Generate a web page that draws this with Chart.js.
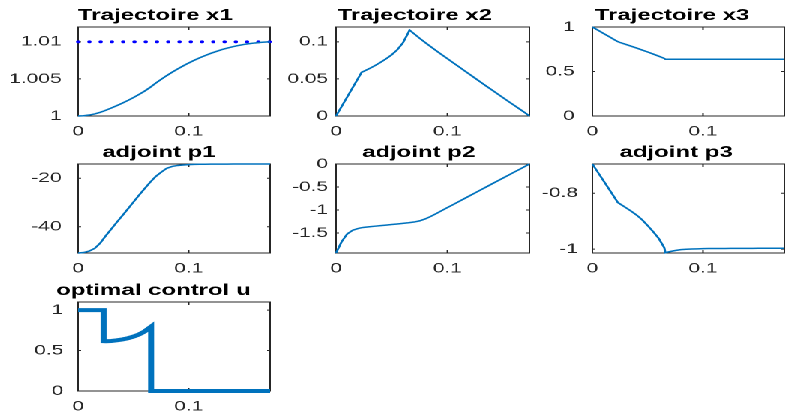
<!DOCTYPE html>
<html>
<head>
<meta charset="utf-8">
<script src="https://cdn.jsdelivr.net/npm/chart.js@4.4.1/dist/chart.umd.min.js"></script>
<style>
  html, body { margin: 0; padding: 0; background: #fff; overflow: hidden; }
  /* the reference figure is stretched horizontally, so draw narrow and stretch */
  #figure { position: absolute; left: 0; top: 0; width: 524px; height: 412px; transform: scaleX(1.5); transform-origin: 0 0; }
  #figure canvas { position: absolute; }
</style>
</head>
<body>
<div id="figure">
  <canvas id="c1" width="182" height="144" style="left:2px;top:0px"></canvas>
  <canvas id="c2" width="183" height="144" style="left:174px;top:0px"></canvas>
  <canvas id="c3" width="182" height="144" style="left:345px;top:0px"></canvas>
  <canvas id="c4" width="182" height="144" style="left:2px;top:137px"></canvas>
  <canvas id="c5" width="183" height="144" style="left:174px;top:137px"></canvas>
  <canvas id="c6" width="182" height="144" style="left:345px;top:137px"></canvas>
  <canvas id="c7" width="182" height="144" style="left:2px;top:275px"></canvas>
</div>
<script>
// time grid shared by the state / adjoint curves
const timeGrid = [0, 0.005, 0.01, 0.015, 0.02, 0.023, 0.025, 0.03, 0.035, 0.04, 0.045, 0.05, 0.055, 0.06, 0.065, 0.066,
  0.07, 0.075, 0.08, 0.085, 0.09, 0.095, 0.1, 0.105, 0.11, 0.115, 0.12, 0.125, 0.13, 0.135, 0.14, 0.145, 0.15, 0.155, 0.16, 0.165, 0.17, 0.1736];

const x1Values = [1, 1.00003, 1.00013, 1.00028, 1.0005, 1.00066, 1.00078, 1.00108, 1.0014, 1.00174, 1.0021, 1.00249, 1.0029, 1.00335, 1.00385, 1.00396,
  1.00442, 1.00494, 1.00544, 1.00591, 1.00635, 1.00676, 1.00715, 1.00751, 1.00785, 1.00816, 1.00845, 1.00871, 1.00895, 1.00916, 1.00935, 1.00951, 1.00965, 1.00976, 1.00985, 1.00992, 1.00997, 1.01];
const x1Target = 1.01;

const x2Values = [0, 0.0128, 0.0256, 0.0384, 0.0512, 0.059, 0.0604, 0.064, 0.068, 0.0724, 0.0772, 0.0826, 0.0893, 0.0985, 0.1125, 0.1159,
  0.111, 0.1049, 0.0991, 0.0935, 0.088, 0.0826, 0.0773, 0.072, 0.0667, 0.0614, 0.0561, 0.0508, 0.0455, 0.0402, 0.035, 0.0298, 0.0246, 0.0194, 0.0143, 0.0092, 0.0041, 0];

const x3Values = [1, 0.964, 0.928, 0.892, 0.856, 0.835, 0.826, 0.805, 0.784, 0.763, 0.741, 0.719, 0.696, 0.672, 0.647, 0.638,
  0.638, 0.638, 0.638, 0.638, 0.638, 0.638, 0.638, 0.638, 0.638, 0.638, 0.638, 0.638, 0.638, 0.638, 0.638, 0.638, 0.638, 0.638, 0.638, 0.638, 0.638, 0.638];

const p1Values = [-50.8, -50.6, -50.0, -48.9, -46.7, -44.9, -43.7, -40.9, -38.1, -35.4, -32.6, -29.8, -27.0, -24.3, -21.7, -21.2,
  -19.3, -17.5, -15.9, -15.1, -14.7, -14.5, -14.35, -14.27, -14.22, -14.19, -14.17, -14.15, -14.14, -14.13, -14.12, -14.12, -14.11, -14.11, -14.1, -14.1, -14.1, -14.1];

const p2Values = [-1.935, -1.69, -1.52, -1.44, -1.40, -1.385, -1.378, -1.365, -1.352, -1.34, -1.328, -1.316, -1.304, -1.291, -1.278, -1.275,
  -1.262, -1.237, -1.195, -1.14, -1.078, -1.013, -0.948, -0.884, -0.819, -0.755, -0.69, -0.626, -0.561, -0.497, -0.432, -0.368, -0.304, -0.24, -0.176, -0.112, -0.047, 0];

const p3Values = [-0.695, -0.725, -0.755, -0.785, -0.815, -0.833, -0.838, -0.851, -0.864, -0.878, -0.895, -0.916, -0.938, -0.962, -0.995, -1.013,
  -1.009, -1.005, -1.002, -1.0005, -0.9995, -0.999, -0.9985, -0.998, -0.998, -0.998, -0.998, -0.9975, -0.9975, -0.9975, -0.9975, -0.9975, -0.997, -0.997, -0.997, -0.997, -0.997, -0.997];

// control has jumps, so its own time list (repeated times = vertical steps)
const uTimes = [0, 0.023, 0.023, 0.025, 0.03, 0.035, 0.04, 0.045, 0.05, 0.055, 0.06, 0.066, 0.066, 0.1736];
const uValues = [1, 1, 0.616, 0.615, 0.618, 0.626, 0.637, 0.652, 0.672, 0.699, 0.735, 0.795, 0, 0];

const xTicks = [0, 0.1];
const xMax = 0.1736;
const x1Ticks = [1, 1.005, 1.01];
const x2Ticks = [0, 0.05, 0.1];
const x3Ticks = [0, 0.5, 1];
const p1Ticks = [-40, -20];
const p2Ticks = [-1.5, -1, -0.5, 0];
const p3Ticks = [-1, -0.8];
const uTicks = [0, 0.5, 1];

const lineBlue = '#0072BD';
const axisGray = '#262626';
const fontFam = '"Liberation Sans", Arial, Helvetica, sans-serif';

function pts(xs, ys) {
  return xs.map((t, i) => ({ x: t, y: ys[i] }));
}

// box with inward ticks on all four sides + bold title, like matlab axes
const matlabBox = {
  id: 'matlabBox',
  beforeDatasetsDraw(chart, args, opts) {
    const { ctx, chartArea: a, scales } = chart;
    ctx.save();
    ctx.strokeStyle = axisGray;
    ctx.lineWidth = 1;
    ctx.strokeRect(a.left, a.top, a.right - a.left, a.bottom - a.top);
    ctx.beginPath();
    scales.x.ticks.forEach(t => {
      const px = scales.x.getPixelForValue(t.value);
      ctx.moveTo(px, a.bottom); ctx.lineTo(px, a.bottom - 3);
      ctx.moveTo(px, a.top); ctx.lineTo(px, a.top + 3);
    });
    scales.y.ticks.forEach(t => {
      const py = scales.y.getPixelForValue(t.value);
      ctx.moveTo(a.left, py); ctx.lineTo(a.left + 2, py);
      ctx.moveTo(a.right, py); ctx.lineTo(a.right - 2, py);
    });
    ctx.stroke();
    ctx.restore();
  },
  afterDraw(chart, args, opts) {
    const { ctx, chartArea: a } = chart;
    ctx.save();
    ctx.fillStyle = '#000';
    ctx.font = 'bold 16px ' + fontFam;
    ctx.textAlign = 'center';
    ctx.textBaseline = 'alphabetic';
    ctx.fillText(opts.title, (a.left + a.right) / 2 + opts.shift, a.top - 7);
    ctx.restore();
  }
};

function makePlot(id, title, shift, datasets, yMin, yMax, yTicks, yPad) {
  return new Chart(document.getElementById(id), {
    type: 'line',
    data: { datasets: datasets },
    plugins: [matlabBox],
    options: {
      responsive: false,
      animation: false,
      devicePixelRatio: 2,
      layout: { padding: { top: 27, right: 4, left: 0, bottom: 0 } },
      plugins: {
        legend: { display: false },
        tooltip: { enabled: false },
        matlabBox: { title: title, shift: shift }
      },
      elements: { point: { radius: 0 } },
      scales: {
        x: {
          type: 'linear',
          min: 0,
          max: xMax,
          afterBuildTicks: s => { s.ticks = xTicks.map(v => ({ value: v })); },
          afterFit: s => { s.height = 28; },
          grid: { display: false, drawTicks: false },
          border: { display: false },
          ticks: {
            color: axisGray, padding: 7, maxRotation: 0, minRotation: 0, autoSkip: false,
            font: { family: fontFam, size: 14 },
            callback: v => String(v)
          }
        },
        y: {
          type: 'linear',
          min: yMin,
          max: yMax,
          afterBuildTicks: s => { s.ticks = yTicks.map(v => ({ value: v })); },
          afterFit: s => { s.width = 50; },
          grid: { display: false, drawTicks: false },
          border: { display: false },
          ticks: {
            color: axisGray, padding: yPad, autoSkip: false,
            font: { family: fontFam, size: 14 },
            callback: v => String(v)
          }
        }
      }
    }
  });
}

function curve(xs, ys, width) {
  return {
    data: pts(xs, ys),
    borderColor: lineBlue,
    borderWidth: width,
    pointRadius: 0,
    tension: 0,
    clip: false
  };
}

makePlot('c1', 'Trajectoire x1', -12.5, [
  curve(timeGrid, x1Values, 1.5),
  {
    data: pts([0, xMax], [x1Target, x1Target]),
    borderColor: '#0000FF',
    borderWidth: 2.8,
    borderDash: [0.01, 7.5],
    borderCapStyle: 'round',
    pointRadius: 0,
    clip: false
  }
], 1, 1.012, x1Ticks, 11);

makePlot('c2', 'Trajectoire x2', -12, [curve(timeGrid, x2Values, 1.5)], 0, 0.12, x2Ticks, 5.3);
makePlot('c3', 'Trajectoire x3', -10.9, [curve(timeGrid, x3Values, 1.5)], 0, 1, x3Ticks, 11.8);
makePlot('c4', 'adjoint p1', -10.1, [curve(timeGrid, p1Values, 1.5)], -50.8, -14.1, p1Ticks, 11);
makePlot('c5', 'adjoint p2', -9.3, [curve(timeGrid, p2Values, 1.5)], -1.935, 0, p2Ticks, 5.3);
makePlot('c6', 'adjoint p3', -8.1, [curve(timeGrid, p3Values, 1.5)], -1.014, -0.695, p3Ticks, 9.6);
makePlot('c7', 'optimal control u', -13.8, [curve(uTimes, uValues, 4)], 0, 1.1, uTicks, 9.8);
</script>
</body>
</html>
